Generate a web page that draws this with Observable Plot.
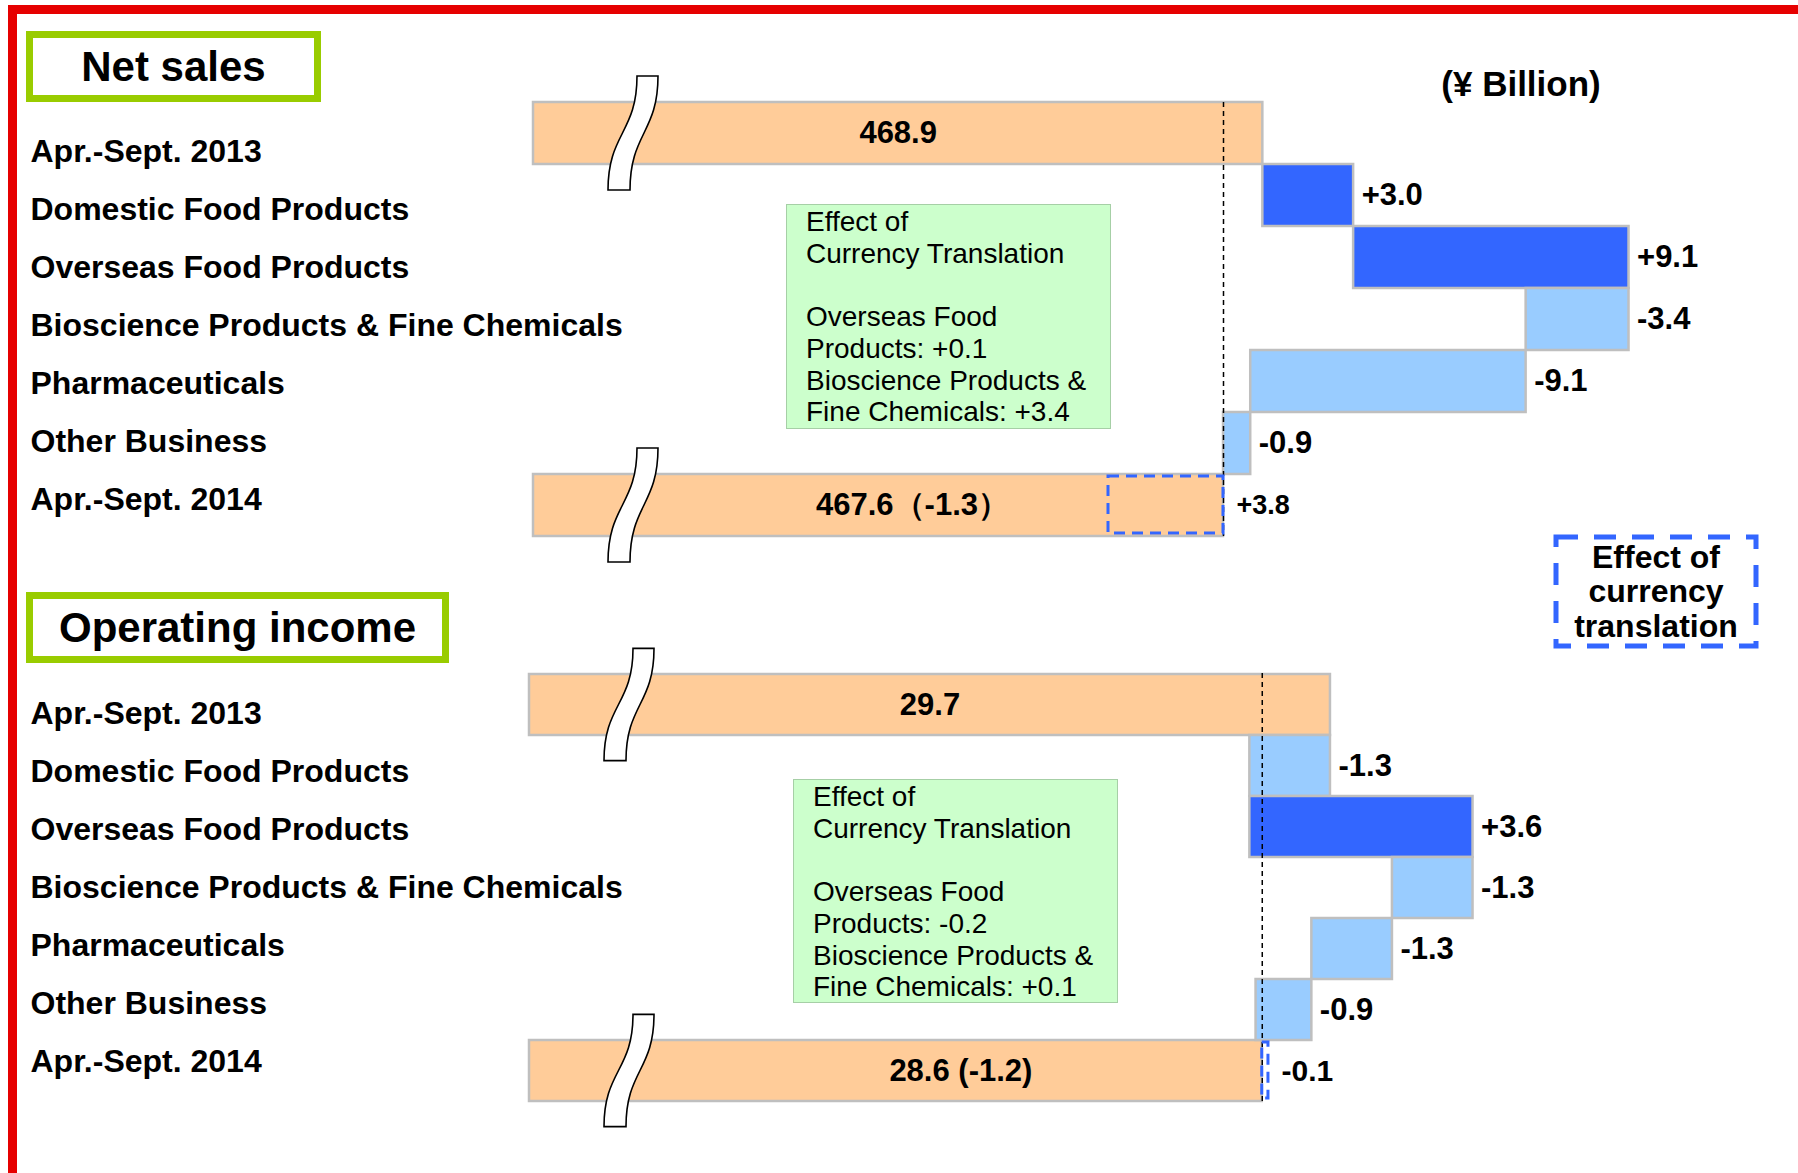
<!DOCTYPE html>
<html>
<head>
<meta charset="utf-8">
<script src="https://cdn.jsdelivr.net/npm/d3@7"></script>
<script src="https://cdn.jsdelivr.net/npm/@observablehq/plot@0.6"></script>
<style>
  body { margin: 0; background: #fff; }
  #root { position: relative; width: 1798px; height: 1173px; overflow: hidden; background: #fff;
          font-family: "Liberation Sans", Arial, Helvetica, sans-serif; color: #000; }
  .abs { position: absolute; }
  .red-top { left: 8px; top: 5px; width: 1790px; height: 9px; background: #e60000; }
  .red-left { left: 8px; top: 5px; width: 9px; height: 1168px; background: #e60000; }
  .title { box-sizing: border-box; border: 7px solid #99cc00; display: flex; align-items: center;
           justify-content: center; font-weight: bold; font-size: 42px; line-height: 1; background: #fff; }
  .note { box-sizing: border-box; background: #ccffcc; border: 1.5px solid #a6cfa6; padding: 1px 0 0 19px;
          font-size: 28px; line-height: 31.7px; }
  .note .body { width: 292px; margin-top: 31.7px; }
  .unit { font-weight: bold; font-size: 35px; line-height: 35px; text-align: center; }
  .legend-text { display: flex; flex-direction: column; align-items: center; justify-content: center;
                 font-weight: bold; font-size: 32px; line-height: 34.4px; }
  .plotwrap { position: absolute; left: 0; }
</style>
</head>
<body>
<div id="root"></div>
<script>
// ---------------- data ----------------
const categories = [
  "Apr.-Sept. 2013",
  "Domestic Food Products",
  "Overseas Food Products",
  "Bioscience Products & Fine Chemicals",
  "Pharmaceuticals",
  "Other Business",
  "Apr.-Sept. 2014"
];

const netTitle = "Net sales";
const netStart = 468.9;
const netChanges = [3.0, 9.1, -3.4, -9.1, -0.9];
const netEnd = 467.6;
const netDelta = -1.3;
const netCurrency = 3.8;
const netCurrencyNotes = [["Overseas Food Products", 0.1], ["Bioscience Products & Fine Chemicals", 3.4]];

const opTitle = "Operating income";
const opStart = 29.7;
const opChanges = [-1.3, 3.6, -1.3, -1.3, -0.9];
const opEnd = 28.6;
const opDelta = -1.2;
const opCurrency = -0.1;
const opCurrencyNotes = [["Overseas Food Products", -0.2], ["Bioscience Products & Fine Chemicals", 0.1]];

const noteTitle = ["Effect of", "Currency Translation"];
const unitText = "(¥ Billion)";
const legendLines = ["Effect of", "currency", "translation"];

// ---------------- helpers ----------------
const FONT = '"Liberation Sans", Arial, Helvetica, sans-serif';
const fmt = v => (v > 0 ? "+" : "-") + Math.abs(v).toFixed(1);
const ORANGE = "#ffcc99", DARK = "#3366ff", LIGHT = "#99ccff", GRAY = "#bfbfbf";

function breakMark(rows, xStart, offset) {
  return function (index, scales) {
    const g = d3.create("svg:g");
    const bw = typeof scales.y.bandwidth === "function" ? scales.y.bandwidth() : 60;
    const h = bw * 0.92;
    for (const r of rows) {
      const cx = scales.x(xStart) + offset;
      const cy = scales.y(r) + bw / 2;
      const p = d3.path();
      p.moveTo(cx - 25, cy + h);
      p.bezierCurveTo(cx - 25, cy, cx + 4, cy, cx + 4, cy - h);
      p.lineTo(cx + 25, cy - h);
      p.bezierCurveTo(cx + 25, cy, cx - 3, cy, cx - 3, cy + h);
      p.closePath();
      g.append("path").attr("d", p.toString())
        .attr("fill", "#fff").attr("stroke", "#000").attr("stroke-width", 1.6);
    }
    return g.node();
  };
}

function panel(root, d, L) {
  const first = categories[0], last = categories[categories.length - 1];
  const xmin = L.xDomain[0];

  // waterfall steps
  let run = d.start;
  const steps = d.changes.map((c, i) => {
    const s = { cat: categories[i + 1], x1: run, x2: run + c, change: c };
    run += c;
    return s;
  });
  const startRow = [{ cat: first, x1: xmin, x2: d.start, label: d.start.toFixed(1) }];
  const endRow = [{ cat: last, x1: xmin, x2: d.end, label: d.endText }];
  const curRow = [{ cat: last, x1: d.end - d.currency, x2: d.end, change: d.currency }];

  const bars = Plot.plot({
    width: 1798, height: L.height,
    marginLeft: L.marginLeft, marginRight: 0, marginTop: L.marginTop, marginBottom: L.marginBottom,
    x: { domain: L.xDomain, axis: null },
    y: { type: "band", domain: categories, padding: 0, axis: null },
    style: { background: "transparent", fontFamily: FONT, overflow: "visible" },
    marks: [
      Plot.barX(startRow.concat(endRow), { x1: "x1", x2: "x2", y: "cat", fill: ORANGE, stroke: GRAY, strokeWidth: 2.5, insetTop: 0, insetBottom: 0 }),
      Plot.barX(steps, { x1: "x1", x2: "x2", y: "cat", fill: s => s.change > 0 ? DARK : LIGHT, stroke: GRAY, strokeWidth: 2.5, insetTop: 0, insetBottom: 0 }),
      Plot.ruleX([d.end], { stroke: "#000", strokeWidth: 1.5, strokeDasharray: "5,4" }),
      Plot.barX(curRow, { x1: "x1", x2: "x2", y: "cat", fill: "none", stroke: DARK, strokeWidth: 3, strokeDasharray: "11,7", insetTop: 2, insetBottom: 3 }),
      breakMark([first, last], xmin, 100),
      Plot.text(startRow, { x: r => (r.x1 + r.x2) / 2, y: "cat", text: "label", fontSize: 31, fontWeight: "bold", fill: "#000" }),
      Plot.text(endRow, { x: r => (r.x1 + r.x2) / 2, y: "cat", text: "label", dx: L.endLabelDx, fontSize: 31, fontWeight: "bold", fill: "#000" }),
      Plot.text(steps, { x: s => Math.max(s.x1, s.x2), y: "cat", text: s => fmt(s.change), dx: 8, textAnchor: "start", fontSize: 31, fontWeight: "bold", fill: "#000" }),
      Plot.text(curRow, { x: s => Math.max(s.x1, s.x2), y: "cat", text: s => fmt(s.change), dx: 13, textAnchor: "start", fontSize: L.curFont, fontWeight: "bold", fill: "#000" })
    ]
  });

  const labels = Plot.plot({
    width: 700, height: L.height,
    marginLeft: 30, marginRight: 0, marginTop: L.labelTop, marginBottom: L.height - L.labelBottom,
    y: { type: "band", domain: categories, padding: 0, axis: null },
    style: { background: "transparent", fontFamily: FONT, overflow: "visible" },
    marks: [
      Plot.text(categories, { y: c => c, text: c => c, frameAnchor: "left", textAnchor: "start", fontSize: 32, fontWeight: "bold", fill: "#000" })
    ]
  });

  for (const node of [labels, bars]) {
    const w = document.createElement("div");
    w.className = "plotwrap";
    w.style.top = L.top + "px";
    w.style.width = node === bars ? "1798px" : "700px";
    w.appendChild(node);
    root.appendChild(w);
  }

  // title box
  const t = document.createElement("div");
  t.className = "abs title";
  Object.assign(t.style, { left: L.titleBox[0] + "px", top: L.titleBox[1] + "px", width: L.titleBox[2] + "px", height: L.titleBox[3] + "px" });
  t.textContent = d.title;
  root.appendChild(t);

  // currency translation note
  const n = document.createElement("div");
  n.className = "abs note";
  Object.assign(n.style, { left: L.noteBox[0] + "px", top: L.noteBox[1] + "px", width: L.noteBox[2] + "px", height: L.noteBox[3] + "px" });
  for (const line of noteTitle) {
    const e = document.createElement("div"); e.textContent = line; n.appendChild(e);
  }
  const body = document.createElement("div");
  body.className = "body";
  for (const [seg, v] of d.notes) {
    const e = document.createElement("div"); e.textContent = `${seg}: ${fmt(v)}`; body.appendChild(e);
  }
  n.appendChild(body);
  root.appendChild(n);
}

// ---------------- build ----------------
const root = document.getElementById("root");
["red-top", "red-left"].forEach(c => { const e = document.createElement("div"); e.className = "abs " + c; root.appendChild(e); });

panel(root, {
  title: netTitle, start: netStart, changes: netChanges, end: netEnd, currency: netCurrency,
  endText: `${netEnd.toFixed(1)}（${fmt(netDelta)}）`, notes: netCurrencyNotes
}, {
  top: 0, height: 560, marginLeft: 533, marginTop: 102, marginBottom: 24,
  xDomain: [444.8, 486.6], endLabelDx: 34, curFont: 27,
  labelTop: 120.8, labelBottom: 529.2,
  titleBox: [26, 31, 295, 71], noteBox: [786, 204, 325, 225]
});

panel(root, {
  title: opTitle, start: opStart, changes: opChanges, end: opEnd, currency: opCurrency,
  endText: `${opEnd.toFixed(1)} (${fmt(opDelta)})`, notes: opCurrencyNotes
}, {
  top: 560, height: 613, marginLeft: 529, marginTop: 113, marginBottom: 71,
  xDomain: [16.78, 37.25], endLabelDx: 65, curFont: 30,
  labelTop: 122.9, labelBottom: 530.1,
  titleBox: [26, 592, 423, 71], noteBox: [793, 779, 325, 224]
});

// unit label
const u = document.createElement("div");
u.className = "abs unit";
Object.assign(u.style, { left: "1371px", top: "66px", width: "300px" });
u.textContent = unitText;
root.appendChild(u);

// legend: dashed box for currency translation effect
const ns = "http://www.w3.org/2000/svg";
const lg = document.createElementNS(ns, "svg");
lg.setAttribute("width", 210); lg.setAttribute("height", 120);
lg.style.position = "absolute"; lg.style.left = "1551px"; lg.style.top = "532px";
const rect = document.createElementNS(ns, "rect");
rect.setAttribute("x", 5); rect.setAttribute("y", 5); rect.setAttribute("width", 200); rect.setAttribute("height", 109);
rect.setAttribute("fill", "none"); rect.setAttribute("stroke", DARK); rect.setAttribute("stroke-width", 5);
rect.setAttribute("stroke-dasharray", "22,16");
lg.appendChild(rect);
root.appendChild(lg);
const lt = document.createElement("div");
lt.className = "abs legend-text";
Object.assign(lt.style, { left: "1556px", top: "537px", width: "200px", height: "109px" });
for (const line of legendLines) { const e = document.createElement("div"); e.textContent = line; lt.appendChild(e); }
root.appendChild(lt);
</script>
</body>
</html>
